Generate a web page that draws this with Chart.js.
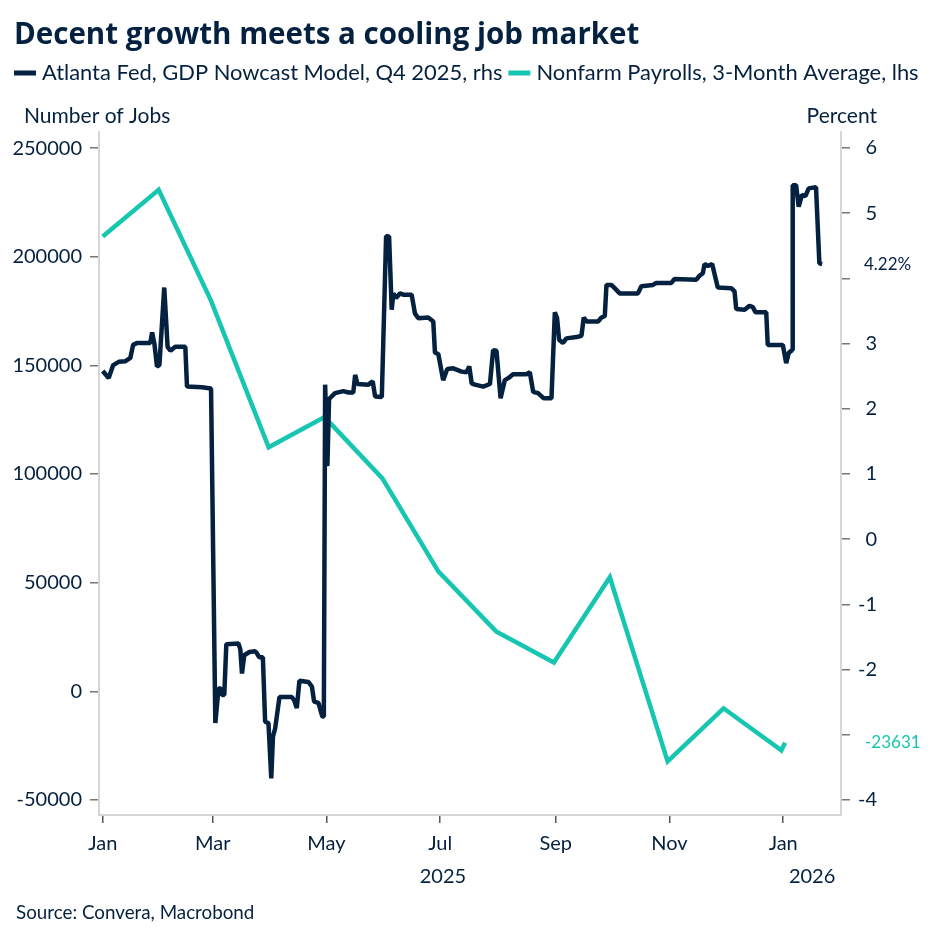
<!DOCTYPE html>
<html>
<head>
<meta charset="utf-8">
<script src="https://cdn.jsdelivr.net/npm/chart.js@4.4.1/dist/chart.umd.min.js"></script>
<style>
  html, body { margin: 0; padding: 0; background: #fff; }
  #wrap { width: 944px; height: 944px; }
</style>
</head>
<body>
<div id="wrap"><canvas id="chart" width="944" height="944"></canvas></div>
<script>
"use strict";

var title = "Decent growth meets a cooling job market";
var source = "Source: Convera, Macrobond";
var gdpLabel = "Atlanta Fed, GDP Nowcast Model, Q4 2025, rhs";
var nfpLabel = "Nonfarm Payrolls, 3-Month Average, lhs";

// x values are days counted from 1 Jan 2025
var monthDays = [0, 59, 120, 181, 243, 304, 365];
var monthLabels = ["Jan", "Mar", "May", "Jul", "Sep", "Nov", "Jan"];
var yearLabels = ["2025", "2026"];

var jobTicks = [-50000, 0, 50000, 100000, 150000, 200000, 250000];
var pctTicks = [-4, -3, -2, -1, 0, 1, 2, 3, 4, 5, 6];

// nonfarm payrolls, 3-month average (lhs)
var nfpDays = [0, 30, 58, 89, 119, 150, 180, 211, 242, 272, 303, 333, 364, 366];
var nfpValues = [209300, 230800, 179900, 112300, 126200, 98000, 55200, 27600, 13300, 52500, -32200, -7800, -27100, -23631];

// GDPNow Q4 2025 estimate, percent (rhs)
var gdpDays = [0, 3.2, 5.6, 8.6, 12.2, 14.8, 16.3, 18.4, 25.5, 26.5,
  27.7, 29.1, 30.4, 33.0, 34.8, 36.3, 38.9, 44.3, 45.2, 53.2,
  58.1, 60.4, 62.1, 63.4, 64.0, 65.2, 66.3, 72.8, 73.8, 74.7,
  75.9, 78.7, 81.8, 82.7, 83.9, 85.9, 87.1, 88.9, 90.4, 91.3,
  92.5, 94.8, 101.4, 102.7, 104.1, 105.5, 110.3, 112.2, 113.4, 115.7,
  117.8, 118.6, 119.3, 120.5, 121.4, 124.6, 129.1, 131.8, 134.4, 135.4,
  136.6, 142.5, 144.8, 146.1, 149.7, 152.0, 153.6, 155.0, 155.9, 157.3,
  159.5, 161.2, 165.7, 167.5, 169.3, 174.6, 177.3, 178.2, 180.0, 182.6,
  184.8, 188.0, 192.5, 195.2, 196.6, 197.9, 199.6, 204.1, 207.7, 209.4,
  211.2, 213.4, 215.7, 217.5, 220.1, 227.3, 229.1, 230.9, 233.5, 236.6,
  240.7, 242.5, 243.7, 244.8, 246.9, 248.7, 254.1, 256.8, 258.0, 259.5,
  265.7, 267.5, 269.3, 270.2, 272.8, 274.6, 277.3, 287.1, 288.9, 295.1,
  296.9, 305.0, 306.7, 318.4, 320.1, 321.9, 322.8, 324.6, 326.9, 329.9,
  337.1, 338.9, 339.8, 344.3, 346.9, 348.7, 350.1, 355.9, 356.7, 364.8,
  366.6, 368.0, 369.8, 370.1, 371.9, 373.3, 375.1, 376.9, 378.7, 382.6,
  384.4, 385.9];
var gdpValues = [2.58, 2.47, 2.67, 2.72, 2.73, 2.78, 2.98, 3.01, 3.01, 3.17,
  3.00, 2.65, 2.67, 3.86, 2.95, 2.89, 2.95, 2.95, 2.34, 2.33,
  2.31, -2.82, -2.29, -2.29, -2.39, -2.39, -1.61, -1.60, -1.69, -2.06,
  -1.78, -1.73, -1.72, -1.75, -1.81, -1.81, -2.80, -2.82, -3.67, -3.03,
  -2.90, -2.42, -2.42, -2.47, -2.59, -2.17, -2.19, -2.26, -2.49, -2.51,
  -2.72, -2.72, 2.37, 1.12, 2.15, 2.24, 2.27, 2.25, 2.25, 2.52,
  2.38, 2.37, 2.42, 2.19, 2.18, 4.65, 4.64, 3.52, 3.77, 3.70,
  3.77, 3.75, 3.75, 3.46, 3.39, 3.40, 3.34, 2.86, 2.84, 2.44,
  2.61, 2.62, 2.57, 2.56, 2.65, 2.39, 2.37, 2.34, 2.38, 2.90,
  2.89, 2.16, 2.44, 2.47, 2.53, 2.53, 2.56, 2.26, 2.24, 2.16,
  2.16, 3.48, 3.39, 3.06, 3.01, 3.08, 3.10, 3.12, 3.40, 3.34,
  3.34, 3.40, 3.42, 3.90, 3.90, 3.85, 3.77, 3.77, 3.88, 3.90,
  3.93, 3.93, 3.99, 3.98, 4.04, 4.08, 4.22, 4.19, 4.22, 3.86,
  3.85, 3.80, 3.53, 3.52, 3.58, 3.56, 3.48, 3.48, 2.98, 2.98,
  2.70, 2.86, 2.90, 5.43, 5.43, 5.10, 5.28, 5.26, 5.38, 5.40,
  4.23, 4.22];

var navy = "#04213f";
var teal = "#17c6b0";
var font = "Lato";

function toPoints(xs, ys) {
  return xs.map(function (x, i) { return { x: x, y: ys[i] }; });
}

var lastGdp = gdpValues[gdpValues.length - 1];
var lastNfp = nfpValues[nfpValues.length - 1];

var textPlugin = {
  id: "texts",
  afterDraw: function (chart) {
    var ctx = chart.ctx;
    var xs = chart.scales.x, yl = chart.scales.jobs, yr = chart.scales.pct;
    ctx.save();
    ctx.textBaseline = "middle";
    ctx.textAlign = "left";
    ctx.fillStyle = navy;
    ctx.font = "bold 29.5px 'Open Sans'";
    ctx.fillText(title, 14, 36);

    // legend
    ctx.font = "21.9px " + font;
    var lx = 14;
    chart.data.datasets.forEach(function (ds) {
      ctx.fillStyle = ds.borderColor;
      ctx.fillRect(lx, 70.5, 22, 5);
      lx += 28;
      ctx.fillStyle = navy;
      ctx.fillText(ds.label, lx, 73);
      lx += ctx.measureText(ds.label).width + 6;
    });

    // axis names
    ctx.font = "21px " + font;
    ctx.fillText("Number of Jobs", 24, 116);
    ctx.textAlign = "right";
    ctx.fillText("Percent", 877, 116);

    // years under the month ticks
    ctx.textAlign = "center";
    ctx.font = "20px " + font;
    var p0 = xs.getPixelForValue(monthDays[0]);
    var p1 = xs.getPixelForValue(monthDays[monthDays.length - 1]);
    ctx.fillText(yearLabels[0], (p0 + p1) / 2, 877);
    ctx.fillText(yearLabels[1], (p1 + xs.right) / 2, 877);

    // last values
    ctx.textAlign = "left";
    ctx.font = "17px " + font;
    ctx.fillStyle = navy;
    ctx.fillText(lastGdp.toFixed(2) + "%", 864, yr.getPixelForValue(lastGdp));
    ctx.fillStyle = teal;
    ctx.fillText(String(lastNfp), 865, yl.getPixelForValue(lastNfp));

    // source
    ctx.fillStyle = navy;
    ctx.font = "18.8px " + font;
    ctx.fillText(source, 16, 913);
    ctx.restore();
  }
};

// right-axis ticks that would clash with the last-value labels are left blank
var jobsMin = -56900, jobsMax = 257400, pctMin = -4.23, pctMax = 6.245;
function pctOfJobs(v) {
  return pctMin + (v - jobsMin) / (jobsMax - jobsMin) * (pctMax - pctMin);
}

new Chart(document.getElementById("chart"), {
  type: "line",
  data: {
    datasets: [
      {
        label: gdpLabel,
        data: toPoints(gdpDays, gdpValues),
        yAxisID: "pct",
        borderColor: navy,
        borderWidth: 4.5,
        borderJoinStyle: "bevel",
        pointRadius: 0,
        tension: 0
      },
      {
        label: nfpLabel,
        data: toPoints(nfpDays, nfpValues),
        yAxisID: "jobs",
        borderColor: teal,
        borderWidth: 4.5,
        pointRadius: 0,
        tension: 0
      }
    ]
  },
  options: {
    responsive: false,
    animation: false,
    devicePixelRatio: 1,
    layout: { padding: { top: 132, left: 0, right: 67, bottom: 0 } },
    plugins: {
      legend: { display: false },
      title: { display: false },
      tooltip: { enabled: false }
    },
    scales: {
      x: {
        type: "linear",
        min: -2,
        max: 396,
        afterFit: function (s) { s.height = 129; },
        afterBuildTicks: function (s) {
          s.ticks = monthDays.map(function (d) { return { value: d }; });
        },
        ticks: {
          autoSkip: false,
          maxRotation: 0,
          padding: 9,
          color: navy,
          font: { family: font, size: 20 },
          callback: function (v, i) { return monthLabels[i]; }
        },
        grid: { drawOnChartArea: false, drawTicks: true, tickLength: 8, color: "#555", lineWidth: 1.5 },
        border: { display: true, color: "#d6d6d6", width: 2 }
      },
      jobs: {
        type: "linear",
        position: "left",
        min: jobsMin,
        max: jobsMax,
        afterFit: function (s) { s.width = 99; },
        afterBuildTicks: function (s) {
          s.ticks = jobTicks.map(function (v) { return { value: v }; });
        },
        ticks: {
          padding: 8,
          color: navy,
          font: { family: font, size: 20 },
          callback: function (v) { return String(v); }
        },
        grid: { drawOnChartArea: false, drawTicks: true, tickLength: 9, color: "#777", lineWidth: 1.5 },
        border: { display: true, color: "#d6d6d6", width: 2 }
      },
      pct: {
        type: "linear",
        position: "right",
        min: pctMin,
        max: pctMax,
        afterFit: function (s) { s.width = 36; },
        afterBuildTicks: function (s) {
          s.ticks = pctTicks.map(function (v) { return { value: v }; });
        },
        ticks: {
          crossAlign: "far",
          color: navy,
          font: { family: font, size: 20 },
          callback: function (v) {
            if (Math.abs(v - lastGdp) < 0.35 || Math.abs(v - pctOfJobs(lastNfp)) < 0.35) return "";
            return String(v);
          }
        },
        grid: { drawOnChartArea: false, drawTicks: true, tickLength: 9, color: "#777", lineWidth: 1.5 },
        border: { display: true, color: "#d6d6d6", width: 2 }
      }
    }
  },
  plugins: [textPlugin]
});
</script>
</body>
</html>
